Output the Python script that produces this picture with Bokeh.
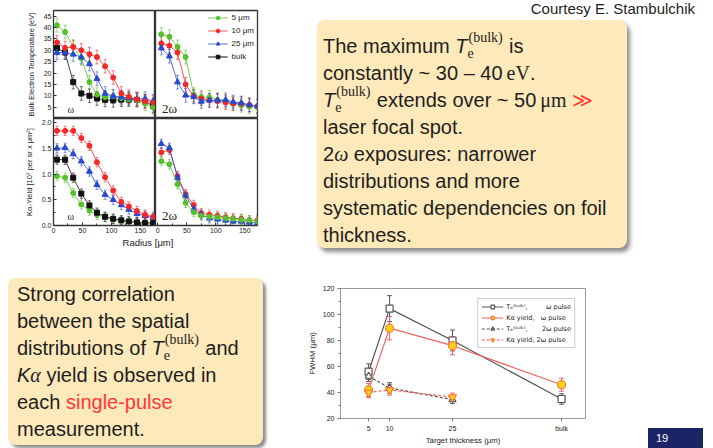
from bokeh.plotting import figure
from bokeh.layouts import row, column
from bokeh.models import (Range1d, FixedTicker, Whisker, TeeHead, ColumnDataSource,
                          Label, Div, Spacer, NumeralTickFormatter)
from bokeh.embed import file_html
from bokeh.resources import INLINE

# ---------------- 4-panel radial profiles ----------------
RADIUS_UM = [6, 20, 34, 48, 62, 75, 89, 103, 117, 130, 144, 158, 172]
SERIES_LABELS = ["5 μm", "10 μm", "25 μm", "bulk"]

TE_OMEGA_5UM = [41, 38, 31.5, 26.5, 16, 10.5, 9.3, 9.7, 9.0, 8.4, 8.0, 6.5, 5.0]
TE_OMEGA_10UM = [33.5, 31, 31.5, 30, 28.3, 27, 23, 18, 11, 9.6, 8.4, 7.6, 7.0]
TE_OMEGA_25UM = [29, 29, 28.2, 27, 24, 17.5, 11, 9.8, 9.4, 9.0, 8.6, 8.7, 7.6]
TE_OMEGA_BULK = [31, 29, 16, 11, 10, 8.8, 8.2, 8.0, 8.3, 8.3, 8.2, 7.5, 5.5]

TE_2OMEGA_5UM = [37, 36, 31.5, 27, 10.5, 9.3, 9.3, 8.2, 7.6, 6.4, 5.8, 5.3, 4.8]
TE_2OMEGA_10UM = [33, 32, 29, 15, 9.8, 8.7, 8.0, 7.6, 7.0, 6.6, 6.5, 6.0, 5.5]
TE_2OMEGA_25UM = [31, 27.4, 16, 10.2, 9.5, 7.5, 8.0, 8.0, 8.2, 7.3, 6.8, 6.0, 5.5]

KA_OMEGA_5UM = [0.96, 0.93, 0.63, 0.41, 0.29, 0.21, 0.16, 0.12, 0.09, 0.08, 0.06, 0.05, 0.05]
KA_OMEGA_10UM = [1.84, 1.84, 1.84, 1.70, 1.55, 1.23, 0.94, 0.68, 0.46, 0.37, 0.28, 0.21, 0.17]
KA_OMEGA_25UM = [1.50, 1.51, 1.39, 1.25, 1.05, 0.79, 0.60, 0.50, 0.40, 0.31, 0.23, 0.19, 0.15]
KA_OMEGA_BULK = [1.28, 1.28, 0.93, 0.62, 0.39, 0.25, 0.17, 0.13, 0.10, 0.08, 0.06, 0.05, 0.05]

KA_2OMEGA_5UM = [1.25, 1.19, 0.80, 0.44, 0.26, 0.19, 0.17, 0.16, 0.14, 0.13, 0.11, 0.10, 0.08]
KA_2OMEGA_10UM = [1.42, 1.47, 0.96, 0.61, 0.40, 0.24, 0.21, 0.19, 0.16, 0.14, 0.13, 0.10, 0.10]
KA_2OMEGA_25UM = [1.59, 1.51, 0.93, 0.58, 0.32, 0.21, 0.14, 0.12, 0.10, 0.08, 0.08, 0.06, 0.05]

TE_ERR_EV = 3.0
KA_ERR = 0.09

TE_TICKS = [5, 10, 15, 20, 25, 30, 35, 40, 45]
KA_TICKS = [0.0, 0.5, 1.0, 1.5, 2.0]
RADIUS_TICKS = [0, 50, 100, 150]

# ---------------- FWHM vs target thickness ----------------
THICKNESS_UM = [5, 10, 25]
THICKNESS_TICK_LABELS = ["5", "10", "25", "bulk"]
FWHM_TE_OMEGA = [56, 104.5, 80, 35]
FWHM_TE_OMEGA_ERR = [6, 10, 8, 4]
FWHM_KA_OMEGA = [42, 89.5, 76, 46]
FWHM_KA_OMEGA_ERR = [5, 9, 7, 5]
FWHM_TE_2OMEGA = [52.5, 43.5, 34.5]
FWHM_TE_2OMEGA_ERR = [4, 4, 3]
FWHM_KA_2OMEGA = [40, 42, 36.5]
FWHM_KA_2OMEGA_ERR = [4, 4, 3]
FWHM_TICKS = [20, 40, 60, 80, 100, 120]
BULK_AXIS_POS = 51  # where "bulk" sits on the broken thickness axis

SANS = "Liberation Sans"
SERIF = "Liberation Serif"
GREEN, RED, BLUE, BLACK = "#55c02c", "#f42828", "#2a48d0", "#111111"
NAN = float("nan")


def style_axis(ax, size="7px"):
    ax.major_label_text_font = SANS
    ax.major_label_text_font_size = size
    ax.major_label_text_color = "#222"
    ax.axis_label_text_font = SANS
    ax.axis_label_text_font_size = "7.5px"
    ax.axis_label_text_font_style = "normal"
    ax.axis_label_text_color = "#222"
    ax.major_tick_in = 3
    ax.major_tick_out = 0
    ax.minor_tick_in = 2
    ax.minor_tick_out = 0
    ax.major_label_standoff = 2
    ax.axis_label_standoff = 5
    ax.axis_line_color = "#333"
    ax.major_tick_line_color = "#333"
    ax.minor_tick_line_color = "#333"


def make_panel(width, height, mbl, mbr, mbt, mbb, x_range, y_range, show_x, show_y):
    p = figure(width=width, height=height, x_range=x_range, y_range=y_range,
               output_backend="svg", toolbar_location=None,
               x_axis_location="below" if show_x else None,
               y_axis_location="left" if show_y else None,
               min_border=0, min_border_left=mbl, min_border_right=mbr,
               min_border_top=mbt, min_border_bottom=mbb)
    p.grid.visible = False
    p.outline_line_color = "#333"
    p.outline_line_width = 1.3
    p.background_fill_color = "white"
    p.border_fill_color = "white"
    if show_x:
        style_axis(p.xaxis[0])
        p.xaxis[0].ticker = FixedTicker(ticks=RADIUS_TICKS, minor_ticks=[25, 75, 125, 175])
    if show_y:
        style_axis(p.yaxis[0])
    return p


def draw_series(p, y, err, color, marker, size, label=None):
    src = ColumnDataSource(dict(x=RADIUS_UM, y=y,
                                lo=[v - err for v in y], hi=[v + err for v in y]))
    p.add_layout(Whisker(source=src, base="x", upper="hi", lower="lo",
                         line_color=color, line_width=0.8, line_alpha=0.75,
                         upper_head=TeeHead(size=3, line_color=color, line_alpha=0.75, line_width=0.8),
                         lower_head=TeeHead(size=3, line_color=color, line_alpha=0.75, line_width=0.8)))
    kw = dict(legend_label=label) if label else {}
    p.line("x", "y", source=src, line_color=color, line_width=1, line_alpha=0.8, **kw)
    p.scatter("x", "y", source=src, marker=marker, size=size, fill_color=color,
              line_color=color, **kw)


xr_left = Range1d(0, 176)
xr_right = Range1d(-4, 172)
yr_te = Range1d(0, 47.5)
yr_ka = Range1d(0, 2.08)

tl = make_panel(155, 118, 53, 0, 10, 0, xr_left, yr_te, False, True)
tr = make_panel(115, 118, 0, 13, 10, 0, xr_right, yr_te, False, False)
bl = make_panel(155, 119, 53, 0, 0, 12, xr_left, yr_ka, True, True)
br = make_panel(115, 119, 0, 13, 0, 12, xr_right, yr_ka, True, False)

tl.yaxis[0].ticker = FixedTicker(ticks=TE_TICKS)
tl.yaxis[0].axis_label = "Bulk Electron Temperature [eV]"
bl.yaxis[0].ticker = FixedTicker(ticks=KA_TICKS, minor_ticks=[0.25, 0.75, 1.25, 1.75])
bl.yaxis[0].axis_label = "Kα-Yield [10⁷ per sr x μm²]"
bl.yaxis[0].formatter = NumeralTickFormatter(format="0.0")

draw_series(tl, TE_OMEGA_BULK, TE_ERR_EV, BLACK, "square", 5)
draw_series(tl, TE_OMEGA_5UM, TE_ERR_EV, GREEN, "circle", 5)
draw_series(tl, TE_OMEGA_25UM, TE_ERR_EV, BLUE, "triangle", 6)
draw_series(tl, TE_OMEGA_10UM, TE_ERR_EV, RED, "circle", 5)

draw_series(tr, TE_2OMEGA_5UM, TE_ERR_EV, GREEN, "circle", 5, SERIES_LABELS[0])
draw_series(tr, TE_2OMEGA_10UM, TE_ERR_EV, RED, "circle", 5, SERIES_LABELS[1])
draw_series(tr, TE_2OMEGA_25UM, TE_ERR_EV, BLUE, "triangle", 6, SERIES_LABELS[2])
# "bulk" has no 2ω data: legend-only renderers (no visible points)
bulk_src = ColumnDataSource(dict(x=[NAN], y=[NAN]))
tr.line("x", "y", source=bulk_src, line_color=BLACK, line_width=1, legend_label=SERIES_LABELS[3])
tr.scatter("x", "y", source=bulk_src, marker="square", size=5, fill_color=BLACK, line_color=BLACK,
           legend_label=SERIES_LABELS[3])
leg = tr.legend[0]
leg.location = "top_right"
leg.label_text_font = SANS
leg.label_text_font_size = "8px"
leg.label_text_color = "#222"
leg.glyph_width = 20
leg.glyph_height = 9
leg.label_height = 9
leg.spacing = 4
leg.padding = 1
leg.margin = 3
leg.label_standoff = 4
leg.border_line_color = None
leg.background_fill_alpha = 0

draw_series(bl, KA_OMEGA_5UM, KA_ERR, GREEN, "circle", 5)
draw_series(bl, KA_OMEGA_BULK, KA_ERR, BLACK, "square", 5)
draw_series(bl, KA_OMEGA_25UM, KA_ERR, BLUE, "triangle", 6)
draw_series(bl, KA_OMEGA_10UM, KA_ERR, RED, "circle", 5)

draw_series(br, KA_2OMEGA_10UM, KA_ERR, RED, "circle", 5)
draw_series(br, KA_2OMEGA_25UM, KA_ERR, BLUE, "triangle", 6)
draw_series(br, KA_2OMEGA_5UM, KA_ERR, GREEN, "circle", 5)

tl.add_layout(Label(x=24, y=4, text="ω", text_font=SERIF, text_font_size="10px",
                    text_baseline="middle", text_color="#222"))
bl.add_layout(Label(x=24, y=0.17, text="ω", text_font=SERIF, text_font_size="10px",
                    text_baseline="middle", text_color="#222"))
tr.add_layout(Label(x=7, y=4.6, text="2ω", text_font=SERIF, text_font_size="13px",
                    text_baseline="middle", text_color="#222"))
br.add_layout(Label(x=7, y=0.2, text="2ω", text_font=SERIF, text_font_size="13px",
                    text_baseline="middle", text_color="#222"))

radius_div = Div(text=('<div style="position:relative;width:270px;height:12px;">'
                       '<div style="position:absolute;left:0;top:0;width:296px;text-align:center;'
                       "font-family:'Liberation Sans',Arial,sans-serif;font-size:9.5px;line-height:12px;color:#222;\">"
                       'Radius [μm]</div></div>'),
                 width=270, height=12, margin=0)

# ---------------- FWHM figure ----------------
fw = figure(width=320, height=188, x_range=Range1d(-1.7, 56.7), y_range=Range1d(20, 120),
            output_backend="svg", toolbar_location=None, min_border=0,
            min_border_left=50, min_border_right=25, min_border_top=28, min_border_bottom=30)
fw.grid.visible = False
fw.outline_line_color = "#9a9a9a"
fw.outline_line_width = 1
fw.background_fill_color = "white"
fw.border_fill_color = "white"
x_ticks = THICKNESS_UM + [BULK_AXIS_POS]
for ax in (fw.xaxis[0], fw.yaxis[0]):
    style_axis(ax, "7px")
    ax.axis_line_color = "#9a9a9a"
    ax.major_tick_line_color = "#777"
    ax.minor_tick_line_color = "#777"
    ax.major_tick_in = 0
    ax.major_tick_out = 3
    ax.minor_tick_out = 2
    ax.minor_tick_in = 0
    ax.axis_label_text_font_size = "7.8px"
fw.xaxis[0].ticker = FixedTicker(ticks=x_ticks)
fw.xaxis[0].major_label_overrides = {int(t): s for t, s in zip(x_ticks, THICKNESS_TICK_LABELS)}
fw.xaxis[0].major_label_standoff = 3
fw.xaxis[0].axis_label_standoff = 1
fw.xaxis[0].axis_label = "Target thickness (μm)"
fw.yaxis[0].ticker = FixedTicker(ticks=FWHM_TICKS, minor_ticks=[30, 50, 70, 90, 110])
fw.yaxis[0].axis_label = "FWHM (μm)"
fw.yaxis[0].major_label_standoff = 3
fw.yaxis[0].axis_label_standoff = 3

YELLOW, ORANGE, SALMON, GREY = "#ffd21c", "#ff7a2e", "#f06262", "#555555"


def fwhm_series(x, y, err, marker, size, fill, edge, line_color, dash, label):
    src = ColumnDataSource(dict(x=x, y=y, lo=[v - e for v, e in zip(y, err)],
                                hi=[v + e for v, e in zip(y, err)]))
    fw.add_layout(Whisker(source=src, base="x", upper="hi", lower="lo",
                          line_color=line_color, line_width=1,
                          upper_head=TeeHead(size=5, line_color=line_color, line_width=1),
                          lower_head=TeeHead(size=5, line_color=line_color, line_width=1)))
    fw.line("x", "y", source=src, line_color=line_color, line_width=1.2, line_dash=dash,
            legend_label=label)
    fw.scatter("x", "y", source=src, marker=marker, size=size, fill_color=fill,
               line_color=edge, line_width=1.2, legend_label=label)


x_omega = THICKNESS_UM + [BULK_AXIS_POS]
NB = "\u00a0"
fwhm_series(x_omega, FWHM_TE_OMEGA, FWHM_TE_OMEGA_ERR, "square", 7, "white", GREY, GREY,
            "solid", "Tₑ⁽ᵇᵘˡᵏ⁾," + NB * 9 + "ω pulse")
fwhm_series(x_omega, FWHM_KA_OMEGA, FWHM_KA_OMEGA_ERR, "circle", 8, YELLOW, ORANGE, SALMON,
            "solid", "Kα yield," + NB * 3 + "ω pulse")
fwhm_series(THICKNESS_UM, FWHM_TE_2OMEGA, FWHM_TE_2OMEGA_ERR, "triangle", 7, "white", GREY, GREY,
            "3 2", "Tₑ⁽ᵇᵘˡᵏ⁾," + NB * 7 + "2ω pulse")
fwhm_series(THICKNESS_UM, FWHM_KA_2OMEGA, FWHM_KA_2OMEGA_ERR, "inverted_triangle", 8, YELLOW,
            ORANGE, SALMON, "3 2", "Kα yield," + NB + "2ω pulse")
lg = fw.legend[0]
lg.location = "top_right"
lg.label_text_font = "DejaVu Sans"
lg.label_text_font_size = "6.5px"
lg.label_text_color = "#222"
lg.glyph_width = 22
lg.glyph_height = 9
lg.label_height = 9
lg.spacing = 2
lg.padding = 3
lg.margin = 10
lg.label_standoff = 3
lg.border_line_color = "#999"
lg.border_line_width = 1

# ---------------- text boxes ----------------
SANS_CSS = "'Liberation Sans', Arial, sans-serif"
SERIF_CSS = "'Liberation Serif', 'Times New Roman', serif"
BOX_BG = "#fde9b9"
RED_TXT = "#ff3838"


def te_html():
    return ('<i>T</i><span style="position:relative;display:inline-block;width:36px;height:20px;">'
            f'<span style="position:absolute;left:1px;top:-2px;font-family:{SERIF_CSS};font-size:14px;line-height:14px;">(bulk)</span>'
            f'<span style="position:absolute;left:0px;top:14px;font-family:{SERIF_CSS};font-size:14px;line-height:14px;">e</span></span>')


top_lines = [
    "The maximum " + te_html() + " is",
    f'constantly ~ 30 – 40&thinsp;<span style="font-family:{SERIF_CSS}">eV</span>.',
    te_html() + f' extends over ~ 50&thinsp;<span style="font-family:{SERIF_CSS}">μm</span> '
                f'<span style="color:{RED_TXT}">≫</span>',
    "laser focal spot.",
    f'2<i style="font-family:{SERIF_CSS}">ω</i> exposures: narrower',
    "distributions and more",
    "systematic dependencies on foil",
    "thickness.",
]
top_html = (f'<div style="position:relative;width:443px;height:260px;font-family:{SANS_CSS};color:#1e1e1e;">'
            '<div style="position:absolute;right:18px;top:0px;font-size:15px;line-height:17px;white-space:nowrap;">'
            'Courtesy E. Stambulchik</div>'
            f'<div style="position:absolute;left:47px;top:20px;width:310px;height:228px;background:{BOX_BG};'
            'border-radius:8px;box-shadow:3px 4px 4px rgba(0,0,0,0.45);"></div>'
            '<div style="position:absolute;left:53px;top:33px;font-size:20px;line-height:27px;white-space:nowrap;">'
            + "<br>".join(top_lines) + '</div></div>')
top_div = Div(text=top_html, width=443, height=260, margin=0)

bl_lines = [
    "Strong correlation",
    "between the spatial",
    "distributions of " + te_html() + " and",
    f'<i>K</i><i style="font-family:{SERIF_CSS}">α</i> yield is observed in',
    f'each <span style="color:{RED_TXT}">single-pulse</span>',
    "measurement.",
]
bl_html = (f'<div style="position:relative;width:290px;height:188px;font-family:{SANS_CSS};color:#1e1e1e;">'
           f'<div style="position:absolute;left:8px;top:18px;width:255px;height:167px;background:{BOX_BG};'
           'border-radius:8px;box-shadow:3px 3px 3px rgba(0,0,0,0.45);"></div>'
           '<div style="position:absolute;left:17px;top:21px;font-size:20px;line-height:27px;white-space:nowrap;">'
           + "<br>".join(bl_lines) + '</div></div>')
bl_div = Div(text=bl_html, width=290, height=188, margin=0)

page_html = (f'<div style="position:relative;width:103px;height:188px;font-family:{SANS_CSS};">'
             '<div style="position:absolute;left:38px;top:168px;width:55px;height:20px;background:#1b2566;'
             'color:white;font-size:11px;line-height:20px;box-sizing:border-box;padding-left:8px;">19</div></div>')
page_div = Div(text=page_html, width=103, height=188, margin=0)

left_block = column(row(tl, tr), row(bl, br), radius_div, Spacer(width=270, height=11, margin=0))
top_row = row(left_block, top_div)
bottom_row = row(bl_div, fw, page_div)
layout = column(top_row, bottom_row)

open("out.html", "w", encoding="utf-8").write(file_html(layout, INLINE, "slide"))
